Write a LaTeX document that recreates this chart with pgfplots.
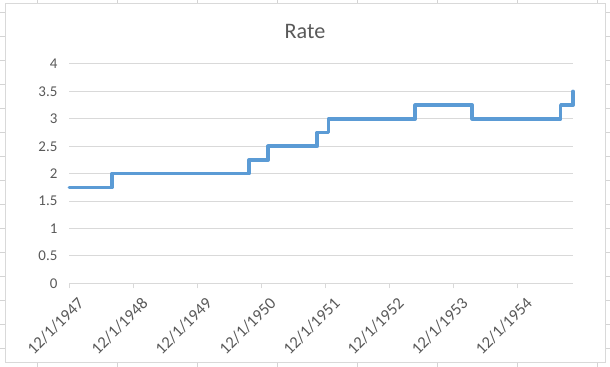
\documentclass[border=0pt]{standalone}
\usepackage{pgfplots}
\pgfplotsset{compat=1.18}
\usepackage{fontspec}
\setmainfont{Carlito}
\definecolor{linec}{HTML}{5B9BD5}
\definecolor{gridc}{HTML}{D9D9D9}
\definecolor{textc}{HTML}{595959}
\definecolor{cellc}{HTML}{D4D4D4}
\begin{document}
\begin{tikzpicture}[x=0.75pt,y=0.75pt]
\useasboundingbox (0,0) rectangle (610,367);
% spreadsheet cell lines peeking out
\foreach \k in {0,...,14}{
  \draw[cellc,line width=0.75pt] (0,{354-24*\k}) -- (5.3,{354-24*\k});
  \draw[cellc,line width=0.75pt] (605,{354-24*\k}) -- (610,{354-24*\k});
}
\foreach \k in {0,...,7}{
  \draw[cellc,line width=0.75pt] ({37+80*\k},363.7) -- ({37+80*\k},367);
  \draw[cellc,line width=0.75pt] ({37+80*\k},0) -- ({37+80*\k},4.3);
}
\draw[gridc,line width=0.75pt,fill=white] (5.3,4.3) rectangle (605,363.7);
\node[anchor=base,text=textc,font=\fontsize{16.6pt}{18pt}\selectfont,inner sep=0pt] at (305,328.7) {Rate};
\begin{axis}[
  at={(51.975pt,62.775pt)}, anchor=origin,
  scale only axis, width=377.85pt, height=164.5pt,
  xmin=0, xmax=7.868, ymin=0, ymax=4,
  enlargelimits=false, clip=false,
  axis line style={draw=none},
  ytick={0,0.5,...,4},
  yticklabels={0,0.5,1,1.5,2,2.5,3,3.5,4},
  ymajorgrids,
  major grid style={gridc,line width=0.75pt},
  xtick={0,1,...,7},
  xticklabels={12/1/1947,12/1/1948,12/1/1949,12/1/1950,12/1/1951,12/1/1952,12/1/1953,12/1/1954},
  tick align=outside,
  xtick pos=bottom, ytick pos=left,
  major tick length=3.75pt,
  xtick style={gridc,line width=0.75pt},
  ytick style={draw=none},
  yticklabel style={anchor=east,inner sep=0pt,xshift=-5pt,text=textc,font=\fontsize{11.2pt}{12pt}\selectfont},
  xticklabel style={rotate=45,anchor=east,inner sep=0pt,xshift=0pt,yshift=-12.5pt,text=textc,font=\fontsize{12.5pt}{13pt}\selectfont},
]
\addplot[const plot, color=linec, line width=2.7pt, line join=round, line cap=round] coordinates {
(0,1.75) (0.667,2.0) (2.808,2.25) (3.104,2.5) (3.871,2.75) (4.049,3.0) (5.403,3.25) (6.290,3.0) (7.674,3.25) (7.868,3.5)
};
\end{axis}
\end{tikzpicture}
\end{document}
